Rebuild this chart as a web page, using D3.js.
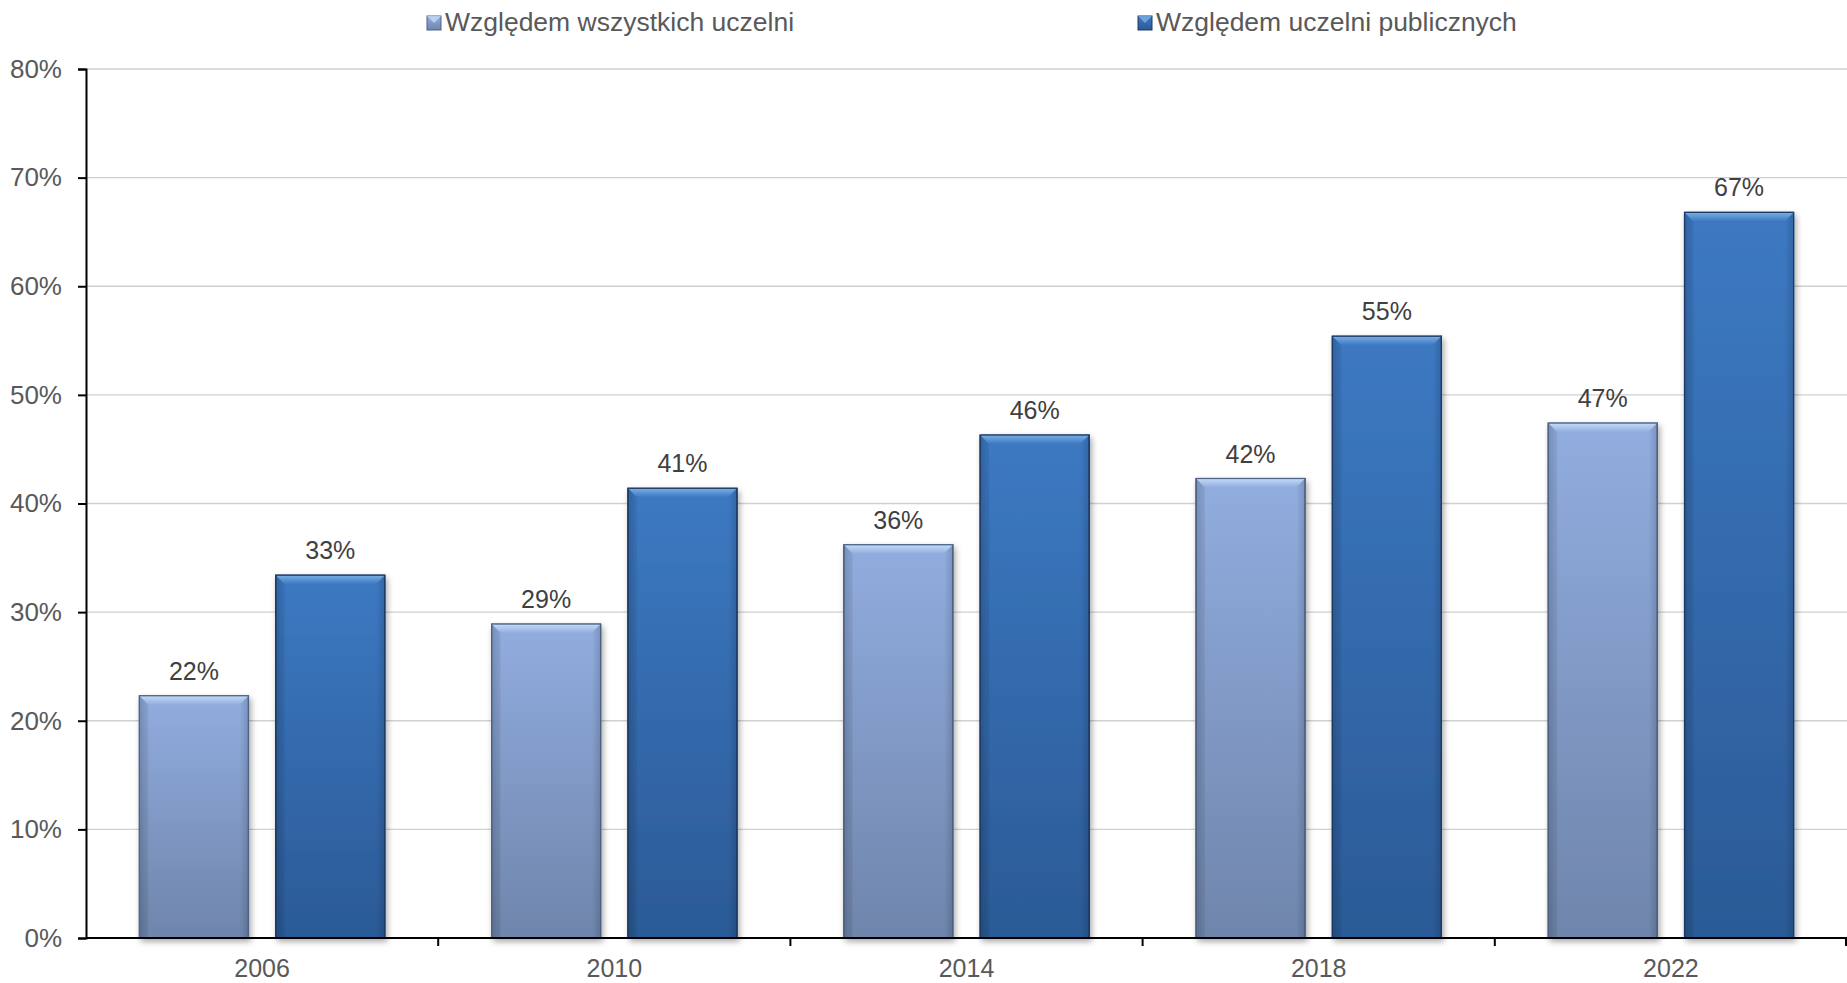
<!DOCTYPE html>
<html><head><meta charset="utf-8">
<script src="https://cdn.jsdelivr.net/npm/d3@7"></script>
<style>html,body{margin:0;padding:0;background:#fff;}svg{display:block;}</style>
</head><body>
<svg id="c" width="1847" height="983"></svg>
<script>
const years = ["2006", "2010", "2014", "2018", "2022"];
const seriesNames = ["Względem wszystkich uczelni", "Względem uczelni publicznych"];
const allUni = [22.3, 28.9, 36.2, 42.3, 47.4];
const publicUni = [33.4, 41.4, 46.3, 55.4, 66.8];
const yTicks = [0, 10, 20, 30, 40, 50, 60, 70, 80];

const svg = d3.select("#c");
const W = 1847, H = 983;
const m = {left: 86, right: 0, top: 69, bottom: 45};
const x0 = m.left, x1 = W - m.right, yTop = m.top, yBot = H - m.bottom;

const x = d3.scaleBand().domain(years).range([x0, x1]).paddingInner(0).paddingOuter(0);
const xs = d3.scaleBand().domain([0, 1]).range([53.4, x.bandwidth() - 53.4]).paddingInner(0.2);
const y = d3.scaleLinear().domain([0, 80]).range([yBot, yTop]);

const defs = svg.append("defs");
const pal = [
  {top: "#91addf", bot: "#6f85ab", bevel: "#c3dbf7", side: "#7f98c6", stroke: "#4e6286"},
  {top: "#3c79c2", bot: "#2b5a96", bevel: "#7aaee6", side: "#2f62a3", stroke: "#1b3a66"}
];
pal.forEach((p, i) => {
  const g = defs.append("linearGradient").attr("id", "g" + i).attr("x1", 0).attr("y1", 0).attr("x2", 0).attr("y2", 1);
  g.append("stop").attr("offset", "0%").attr("stop-color", p.top);
  g.append("stop").attr("offset", "100%").attr("stop-color", p.bot);
  const b = defs.append("linearGradient").attr("id", "b" + i).attr("x1", 0).attr("y1", 0).attr("x2", 0).attr("y2", 1);
  b.append("stop").attr("offset", "0%").attr("stop-color", p.bevel);
  b.append("stop").attr("offset", "100%").attr("stop-color", p.top);
  const s = defs.append("linearGradient").attr("id", "s" + i).attr("x1", 0).attr("y1", 0).attr("x2", 1).attr("y2", 0);
  s.append("stop").attr("offset", "0%").attr("stop-color", "#000").attr("stop-opacity", 0.12);
  s.append("stop").attr("offset", "8%").attr("stop-color", "#000").attr("stop-opacity", 0);
  s.append("stop").attr("offset", "92%").attr("stop-color", "#000").attr("stop-opacity", 0);
  s.append("stop").attr("offset", "100%").attr("stop-color", "#000").attr("stop-opacity", 0.15);
});
const f = defs.append("filter").attr("id", "sh").attr("x", "-20%").attr("y", "-10%").attr("width", "140%").attr("height", "130%");
f.append("feGaussianBlur").attr("in", "SourceAlpha").attr("stdDeviation", 3);
f.append("feOffset").attr("dx", 2).attr("dy", 3).attr("result", "ob");
f.append("feComponentTransfer").append("feFuncA").attr("type", "linear").attr("slope", 0.35);
const mg = f.append("feMerge");
mg.append("feMergeNode");
mg.append("feMergeNode").attr("in", "SourceGraphic");

// gridlines
svg.append("g").selectAll("line").data(yTicks.filter(t => t > 0)).join("line")
  .attr("x1", x0).attr("x2", x1).attr("y1", d => y(d)).attr("y2", d => y(d))
  .attr("stroke", "#d0d0d0").attr("stroke-width", 1.3);

// bars
const data = [];
years.forEach((yr, i) => {
  data.push({yr, s: 0, v: allUni[i]});
  data.push({yr, s: 1, v: publicUni[i]});
});
const bars = svg.append("g").selectAll("g").data(data).join("g")
  .attr("transform", d => `translate(${x(d.yr) + xs(d.s)},${y(d.v)})`);
const bw = xs.bandwidth();
bars.append("rect").attr("width", bw).attr("height", d => yBot - y(d.v))
  .attr("fill", d => `url(#g${d.s})`).attr("stroke", d => pal[d.s].stroke).attr("stroke-width", 1.2)
  .attr("filter", "url(#sh)");
bars.append("rect").attr("width", bw).attr("height", d => yBot - y(d.v))
  .attr("fill", d => `url(#s${d.s})`);
const bev = 9;
bars.append("path").attr("d", `M0,0 L${bw},0 L${bw - bev},${bev} L${bev},${bev} Z`)
  .attr("fill", d => `url(#b${d.s})`);
bars.append("path").attr("d", d => `M0,0 L${bev},${bev} L${bev},${yBot - y(d.v)} L0,${yBot - y(d.v)} Z`)
  .attr("fill", "#000").attr("opacity", 0.06);
bars.append("rect").attr("width", bw).attr("height", d => yBot - y(d.v))
  .attr("fill", "none").attr("stroke", d => pal[d.s].stroke).attr("stroke-width", 1.2);

// value labels
const fmt = d3.format(".0%");
svg.append("g").selectAll("text").data(data).join("text")
  .attr("x", d => x(d.yr) + xs(d.s) + bw / 2).attr("y", d => y(d.v) - 16)
  .attr("text-anchor", "middle").attr("font-family", "Liberation Sans, Arial, sans-serif")
  .attr("font-size", 25).attr("fill", "#404040").text(d => fmt(d.v / 100));

// y axis
const ya = svg.append("g").attr("transform", `translate(${x0},0)`)
  .call(d3.axisLeft(y).tickValues(yTicks).tickSize(8).tickPadding(16).tickFormat(d => d + "%"));
ya.select(".domain").attr("stroke", "#000").attr("stroke-width", 2);
ya.selectAll(".tick line").attr("stroke", "#000").attr("stroke-width", 2);
ya.selectAll("text").attr("font-family", "Liberation Sans, Arial, sans-serif").attr("font-size", 26).attr("fill", "#595959");

// x axis
const xa = svg.append("g").attr("transform", `translate(0,${yBot})`);
xa.append("line").attr("x1", x0).attr("x2", x1).attr("y1", 0).attr("y2", 0).attr("stroke", "#000").attr("stroke-width", 2);
xa.selectAll("line.t").data(years.slice(1).concat(["end"])).join("line").attr("class", "t")
  .attr("x1", d => d === "end" ? x1 - 1 : x(d)).attr("x2", d => d === "end" ? x1 - 1 : x(d))
  .attr("y1", 0).attr("y2", 8).attr("stroke", "#000").attr("stroke-width", 2);
xa.selectAll("text").data(years).join("text")
  .attr("x", d => x(d) + x.bandwidth() / 2).attr("y", 39)
  .attr("text-anchor", "middle").attr("font-family", "Liberation Sans, Arial, sans-serif")
  .attr("font-size", 25).attr("fill", "#595959").text(d => d);

// legend
const legX = [427, 1138];
const lg = svg.append("g").selectAll("g").data(seriesNames).join("g")
  .attr("transform", (d, i) => `translate(${legX[i]},0)`);
lg.append("rect").attr("x", 0).attr("y", 16).attr("width", 14).attr("height", 14)
  .attr("fill", (d, i) => `url(#g${i})`).attr("stroke", (d, i) => pal[i].stroke).attr("stroke-width", 1);
lg.append("path").attr("d", "M0,16 L14,16 L7,23 Z").attr("fill", (d, i) => pal[i].bevel).attr("opacity", 0.8);
lg.append("text").attr("x", 18).attr("y", 31).attr("font-family", "Liberation Sans, Arial, sans-serif")
  .attr("font-size", 26.5).attr("fill", "#595959").text(d => d);
</script>
</body></html>
